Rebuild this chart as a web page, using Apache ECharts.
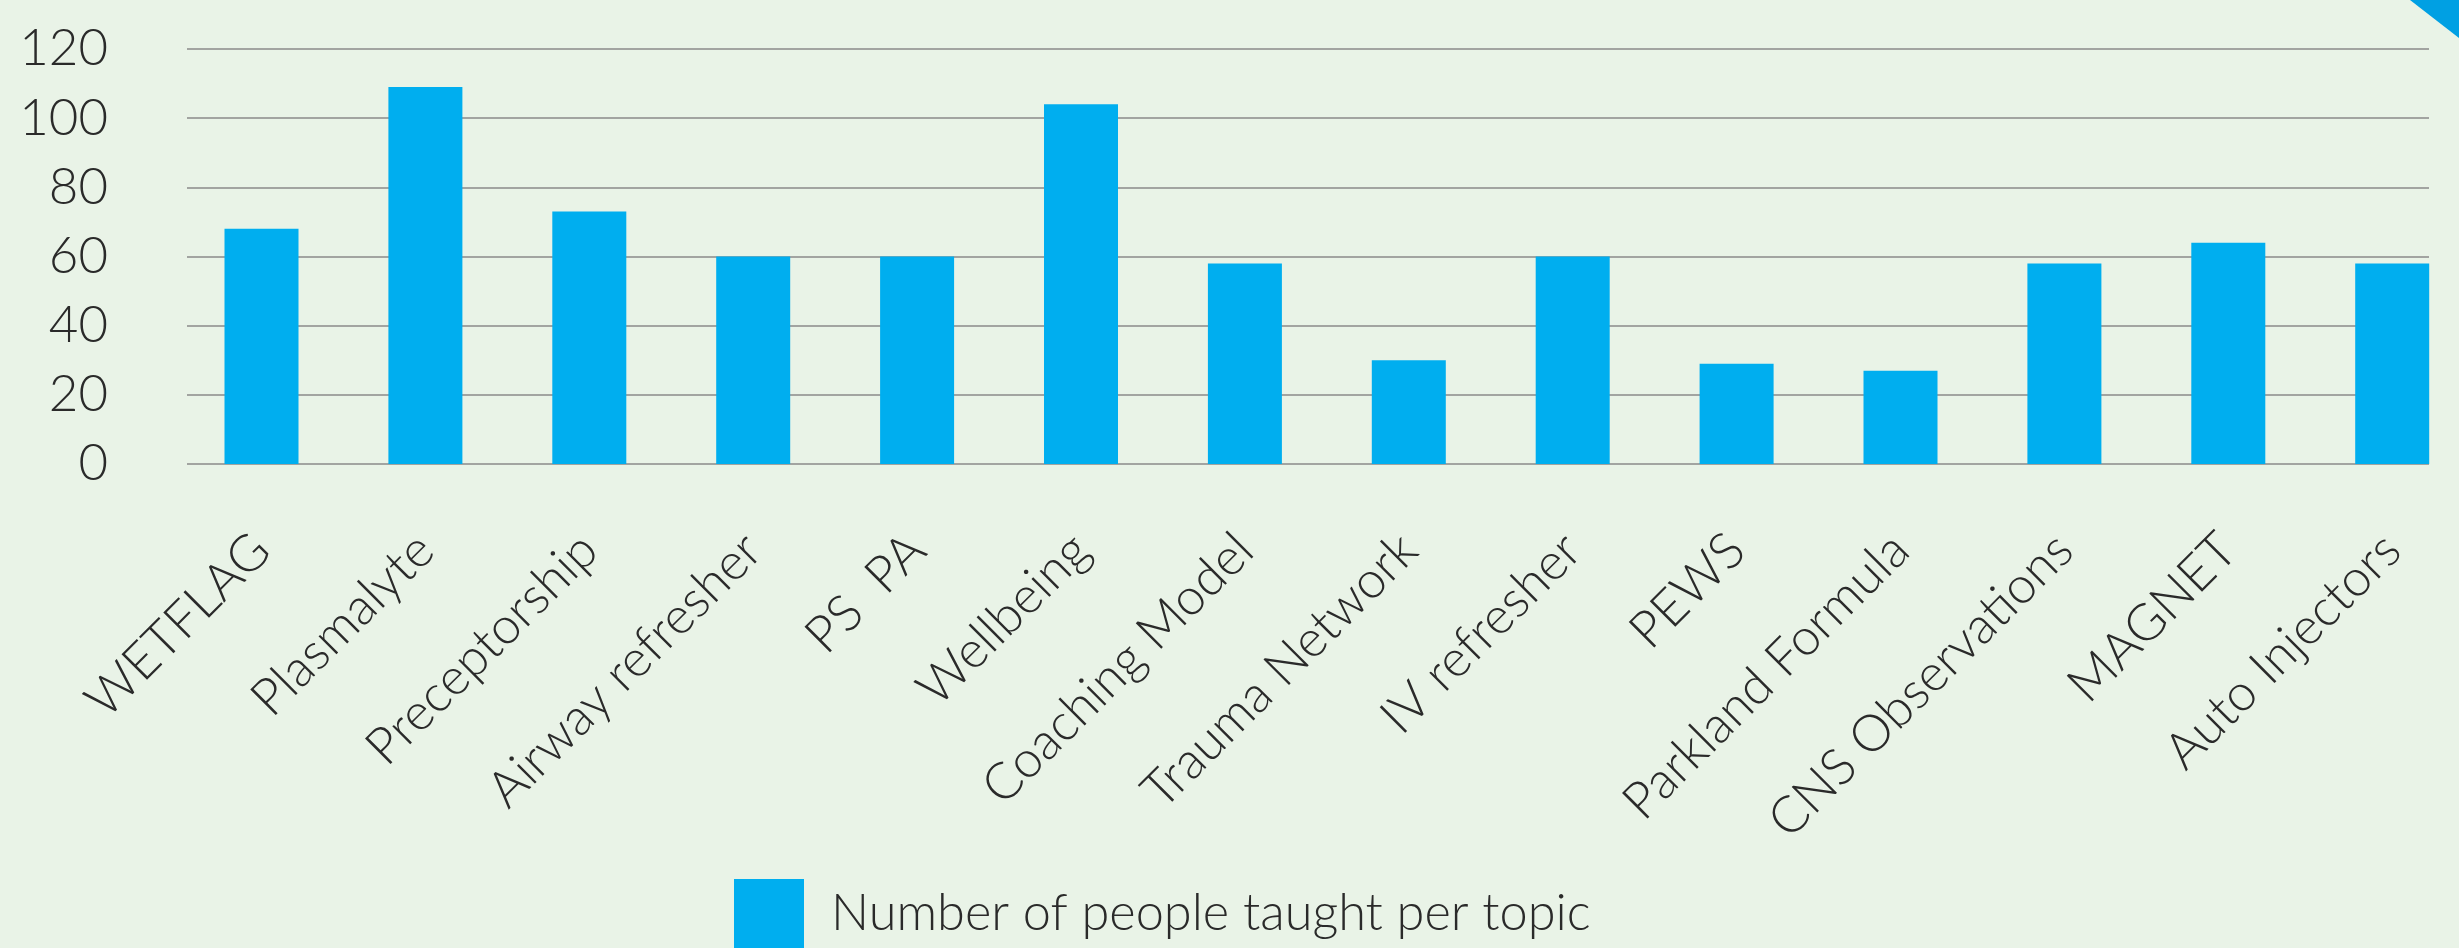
<!DOCTYPE html>
<html>
<head>
<meta charset="utf-8">
<title>Number of people taught per topic</title>
<script src="https://cdn.jsdelivr.net/npm/echarts@6/dist/echarts.min.js"></script>
<style>
  html, body { margin: 0; padding: 0; background: #e9f3e7; }
  #chart { width: 2459px; height: 948px; }
</style>
</head>
<body>
<div id="chart"></div>
<script>
  // topics along the x axis
  const topics = ['WETFLAG', 'Plasmalyte', 'Preceptorship', 'Airway refresher', 'PS  PA', 'Wellbeing',
    'Coaching Model', 'Trauma Network', 'IV refresher', 'PEWS', 'Parkland Formula',
    'CNS Observations', 'MAGNET', 'Auto Injectors']
  // people taught
  const peopleTaught = [68, 109, 73, 60, 60, 104, 58, 30, 60, 29, 27, 58, 64, 58]
  const seriesName = 'Number of people taught per topic'
  const yTicks = { min: 0, max: 120, interval: 20 }

  const font = 'Lato, "Open Sans", sans-serif'
  const textColor = '#2a2a2a'
  const barColor = '#00aeef'

  const chart = echarts.init(document.getElementById('chart'))
  const option = {
    backgroundColor: '#e9f3e7',
    animation: false,
    textStyle: { fontFamily: font, fontWeight: 300 },
    // grid 0 holds the visible gridlines + y labels, grid 1 holds the bars
    // (bars sit on the ticks of grid 1, the original plot was cut off at the right)
    grid: [
      { left: 187, right: 30, top: 49, height: 415 },
      { left: 261.5, width: 2130.7, top: 49, height: 415 }
    ],
    legend: {
      left: 734,
      top: 879,
      padding: 0,
      itemWidth: 70,
      itemHeight: 70,
      icon: 'rect',
      textStyle: { fontSize: 50.5, color: textColor, fontFamily: font, fontWeight: 300, padding: [0, 0, 0, 22] },
      data: [seriesName]
    },
    xAxis: [
      { type: 'category', gridIndex: 0, data: topics, show: false },
      {
        type: 'category',
        gridIndex: 1,
        data: topics,
        boundaryGap: false,
        axisLine: { show: false },
        axisTick: { show: false },
        axisLabel: {
          rotate: 45,
          interval: 0,
          margin: 78,
          fontSize: 51,
          color: textColor,
          fontFamily: font,
          fontWeight: 300
        }
      }
    ],
    yAxis: [
      {
        type: 'value',
        gridIndex: 0,
        min: yTicks.min,
        max: yTicks.max,
        interval: yTicks.interval,
        axisLine: { show: false },
        axisTick: { show: false },
        axisLabel: { margin: 79, fontSize: 51, color: textColor, fontFamily: font, fontWeight: 300 },
        splitLine: { lineStyle: { color: '#8a8a8a', width: 1.6 } }
      },
      {
        type: 'value',
        gridIndex: 1,
        min: yTicks.min,
        max: yTicks.max,
        interval: yTicks.interval,
        show: false,
        splitLine: { show: false }
      }
    ],
    series: [
      {
        name: seriesName,
        type: 'bar',
        xAxisIndex: 1,
        yAxisIndex: 1,
        barWidth: 74,
        itemStyle: { color: barColor },
        data: peopleTaught
      }
    ],
    graphic: [
      {
        type: 'polygon',
        shape: { points: [[2410, 0], [2459, 0], [2459, 38]] },
        style: { fill: '#00a0e3' }
      }
    ]
  }
  chart.setOption(option)
</script>
</body>
</html>
